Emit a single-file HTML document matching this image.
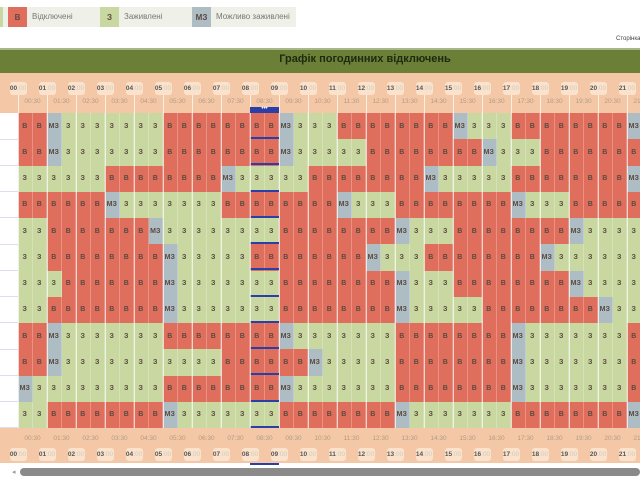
<!DOCTYPE html><html><head><meta charset="utf-8"><style>
*{margin:0;padding:0;box-sizing:border-box}
html,body{width:640px;height:480px;overflow:hidden;background:#fff;font-family:"Liberation Sans",sans-serif}
#w{position:relative;width:640px;height:480px;overflow:hidden}
.a{position:absolute}
.c{position:absolute;width:14.5px;height:26.25px;font-size:7px;font-weight:bold;color:#5a4a40;display:flex;align-items:center;justify-content:center;border-right:1px solid rgba(255,255,255,.25)}
.B{background:#df6e5c}.Z{background:#c9d7a1}.M{background:#aebcc4}
.hb{position:absolute;width:17px;height:13px;margin-left:-8.5px;background:#fbe2cc;border-radius:3px;font-size:6.5px;display:flex;align-items:center;justify-content:center;color:#ccb}
.hb b{color:#555}
.hh{position:absolute;width:29px;margin-left:-14.5px;text-align:center;font-size:6.5px;color:#b09a88}
.vl{position:absolute;width:1px;background:rgba(255,255,255,.7)}
</style></head><body><div id="w">
<div class="a" style="left:0;top:7px;width:296px;height:20px;background:#eff1e8"></div>
<div class="a" style="left:0;top:7px;width:3px;height:20px;background:#c9d7a1"></div>
<div class="a B" style="left:8px;top:7px;width:19px;height:20px;font-size:8px;font-weight:bold;color:#5a4a40;display:flex;align-items:center;justify-content:center">В</div>
<div class="a" style="left:32px;top:12px;font-size:8px;color:#777">Відключені</div>
<div class="a Z" style="left:100px;top:7px;width:19px;height:20px;font-size:8px;font-weight:bold;color:#5a4a40;display:flex;align-items:center;justify-content:center">З</div>
<div class="a" style="left:124px;top:12px;font-size:8px;color:#777">Заживлені</div>
<div class="a M" style="left:192px;top:7px;width:19px;height:20px;font-size:8px;font-weight:bold;color:#5a4a40;display:flex;align-items:center;justify-content:center">МЗ</div>
<div class="a" style="left:216px;top:12px;font-size:8px;color:#777">Можливо заживлені</div>
<div class="a" style="left:616px;top:36px;font-size:6px;color:#444;white-space:nowrap">Сторінка</div>
<div class="a" style="left:0;top:48px;width:640px;height:25px;background:#6b7f36;border-top:2px solid #a9b58a"></div>
<div class="a" style="left:45px;top:53px;width:640px;text-align:center;font-size:11px;font-weight:bold;color:#1e2a10;white-space:nowrap">Графік погодинних відключень</div>
<div class="a" style="left:0;top:73px;width:640px;height:40px;background:#f4c8a6"></div>
<div class="a" style="left:0;top:428px;width:640px;height:35px;background:#f4c8a6"></div>
<div id="g" class="a" style="left:0;top:0;width:640px;height:480px;overflow:hidden"></div>
<div class="a" style="left:250px;top:107px;width:29px;height:6px;background:#2b3fa8;color:#fff;font-size:6px;line-height:5px;text-align:center">•••</div>
<div class="a" style="left:250px;top:463px;width:29px;height:2px;background:#2b3fa8"></div>
<div class="a" style="left:20px;top:468px;width:620px;height:8px;background:#8a8a8a;border-radius:4px"></div>
<div class="a" style="left:12px;top:468px;font-size:7px;color:#999">◂</div>
</div>
<script>
var R=["BBMZZZZZZZBBBBBBBBMZZZBBBBBBBBMZZZBBBBBBBBM",
"BBMZZZZZZZBBBBBBBBMZZZZZBBBBBBBBMZZZBBBBBBB",
"ZZZZZZBBBBBBBBMZZZZZBBBBBBBBMZZZZZBBBBBBBBM",
"BBBBBBMZZZZZZZBBBBBBBBMZZZBBBBBBBBMZZZBBBBB",
"ZZBBBBBBBMZZZZZZZZBBBBBBBBMZZZBBBBBBBBMZZZZ",
"ZZBBBBBBBBMZZZZZBBBBBBBBMZZZBBBBBBBBMZZZZZZ",
"ZZZBBBBBBBMZZZZZZZBBBBBBBBMZZZBBBBBBBBMZZZZ",
"ZZBBBBBBBBMZZZZZZZBBBBBBBBMZZZZZBBBBBBBBMZZ",
"BBMZZZZZZZBBBBBBBBMZZZZZZZBBBBBBBBMZZZZZZZB",
"BBMZZZZZZZZZZZBBBBBBMZZZZZBBBBBBBBMZZZZZZZB",
"MZZZZZZZZZBBBBBBBBMZZZZZZZBBBBBBBBMZZZZZZZB",
"ZZBBBBBBBBMZZZZZZZBBBBBBBBMZZZZZZZBBBBBBBBM"];
var T={B:"В",Z:"З",M:"МЗ"},h="";
for(var r=0;r<12;r++){var y=113+r*26.25;
h+='<div class="a" style="left:0;top:'+(y+25.5)+'px;width:18px;height:1px;background:#dde"></div>';
for(var c=0;c<43;c++){var k=R[r][c],x=18+c*14.5;
h+='<div class="c '+k+'" style="left:'+x+'px;top:'+y+'px">'+T[k]+'</div>';}
h+='<div class="a" style="left:250px;top:'+(y+24)+'px;width:29px;height:2px;background:#2b3fa8"></div>';}
for(var i=0;i<23;i++){var x=18+i*29,s=(i<10?"0":"")+i;
h+='<div class="vl" style="left:'+x+'px;top:95px;height:333px"></div>';
h+='<div class="hb" style="left:'+x+'px;top:82px"><b>'+s+'</b>:00</div>';
h+='<div class="hb" style="left:'+x+'px;top:448px"><b>'+s+'</b>:00</div>';
h+='<div class="hh" style="left:'+(x+14.5)+'px;top:98px">'+s+':30</div>';
h+='<div class="hh" style="left:'+(x+14.5)+'px;top:435px">'+s+':30</div>';}
document.getElementById("g").innerHTML=h;
</script>
</body></html>
